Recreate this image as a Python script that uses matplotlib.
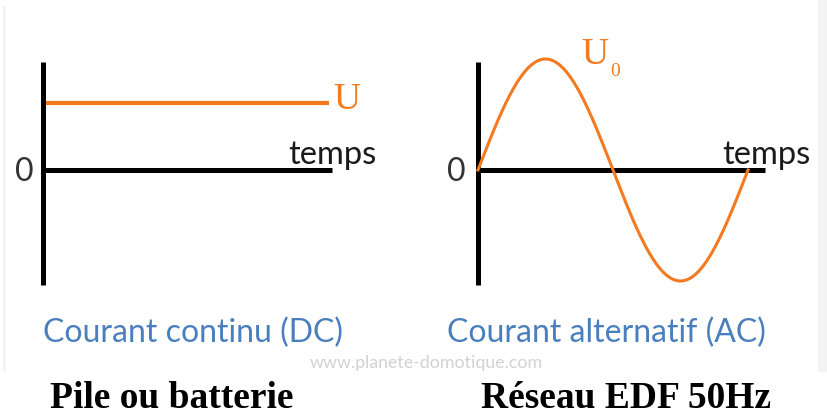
import matplotlib
matplotlib.use("Agg")
import matplotlib.pyplot as plt
import numpy as np
from matplotlib.patches import Rectangle

#########################################################################################
#
# Data
#
#########################################################################################
# DC : pile ou batterie, tension constante U (unite : U0 = 1)
dc_time_ms = [0.0, 21.2]
dc_level = [0.6, 0.6]

# AC : reseau EDF, 50 Hz, amplitude U0, une periode
ac_freq_hz = 50
ac_amplitude = 1.0
ac_time_ms = np.linspace(0, 1000 / ac_freq_hz, 241)
ac_voltage = ac_amplitude * np.sin(2 * np.pi * ac_freq_hz * ac_time_ms / 1000)

panel_titles = ["Courant continu (DC)", "Courant alternatif (AC)"]
panel_captions = ["Pile ou batterie", "Réseau EDF 50Hz"]
curve_labels = ["U", "U"]
axis_label = "temps"
zero_label = "0"
watermark = "www.planete-domotique.com"

ORANGE = "#f47a20"
BLUE = "#4a7fbd"
SANS = ["Lato", "DejaVu Sans"]
SERIF = ["Liberation Serif", "DejaVu Serif"]

W, H = 827, 417


def fx(x):
    return x / W


def fy(y):
    return 1 - y / H


#########################################################################################
#
# Methods
#
#########################################################################################
def make_axes(fig, x0, x1, y_top, y_bot, xmax):
    """
    Axes with the two black lines through the origin
    """
    ax = fig.add_axes([fx(x0), fy(y_bot), fx(x1 - x0), (y_bot - y_top) / H])
    ax.set_xlim(0, xmax)
    # 111 px = 1 unit (U0)
    ax.set_ylim(-(y_bot - 170) / 111, (170 - y_top) / 111)
    ax.patch.set_alpha(0)
    for side in ["top", "right"]:
        ax.spines[side].set_visible(False)
    ax.spines["bottom"].set_position(("data", 0))
    for side in ["left", "bottom"]:
        ax.spines[side].set_linewidth(3.6)
        ax.spines[side].set_color("black")
        ax.spines[side].set_capstyle("butt")
    ax.set_xticks([])
    ax.set_yticks([])
    return ax


fig = plt.figure(figsize=(W / 100, H / 100), dpi=100)
fig.patch.set_facecolor("white")

# Faint frame of the original screenshot
fig.add_artist(Rectangle((fx(818), fy(372)), fx(9), 372 / H, transform=fig.transFigure,
                         facecolor="#f3f3f3", edgecolor="none"))
fig.add_artist(Rectangle((fx(3), fy(372)), fx(3), 366 / H, transform=fig.transFigure,
                         facecolor="#f4f4f4", edgecolor="none"))

# Left panel : DC
ax_dc = make_axes(fig, 43, 332, 62, 285, 289 / 270 * 20)
ax_dc.plot(dc_time_ms, dc_level, color=ORANGE, lw=3.0, solid_capstyle="butt", clip_on=False)

# Right panel : AC
ax_ac = make_axes(fig, 478, 765, 62, 285, 287 / 270 * 20)
ax_ac.plot(ac_time_ms, ac_voltage, color=ORANGE, lw=2.2, clip_on=False, zorder=3)

# Labels U and U0
fig.text(fx(333), fy(100), curve_labels[0], color=ORANGE, fontsize=27, family=SERIF,
         ha="left", va="center")
fig.text(fx(581), fy(55), curve_labels[1], color=ORANGE, fontsize=27, family=SERIF,
         ha="left", va="center")
fig.text(fx(610), fy(72), "0", color=ORANGE, fontsize=14, family=SERIF,
         ha="left", va="center")

# temps / 0
for x_t, x_0 in [(288, 24), (722, 456)]:
    fig.text(fx(x_t), fy(164), axis_label, color="#1a1a1a", fontsize=23.5, family=SANS,
             ha="left", va="baseline")
    fig.text(fx(x_0), fy(172), zero_label, color="#333333", fontsize=23, family=SANS,
             ha="center", va="center")

# Blue panel titles
fig.text(fx(43), fy(333), panel_titles[0], color=BLUE, fontsize=23, family=SANS,
         ha="left", va="center")
fig.text(fx(447), fy(333), panel_titles[1], color=BLUE, fontsize=23, family=SANS,
         ha="left", va="center")

# Watermark
fig.text(fx(426), fy(363), watermark, color="#d2d2d2", fontsize=12.8, family=SANS,
         ha="center", va="center")

# Bold captions
fig.text(fx(172), fy(399), panel_captions[0], color="black", fontsize=27, family=SERIF,
         weight="bold", ha="center", va="center")
fig.text(fx(626), fy(399), panel_captions[1], color="black", fontsize=27, family=SERIF,
         weight="bold", ha="center", va="center")

fig.savefig("out.png", dpi=100)
